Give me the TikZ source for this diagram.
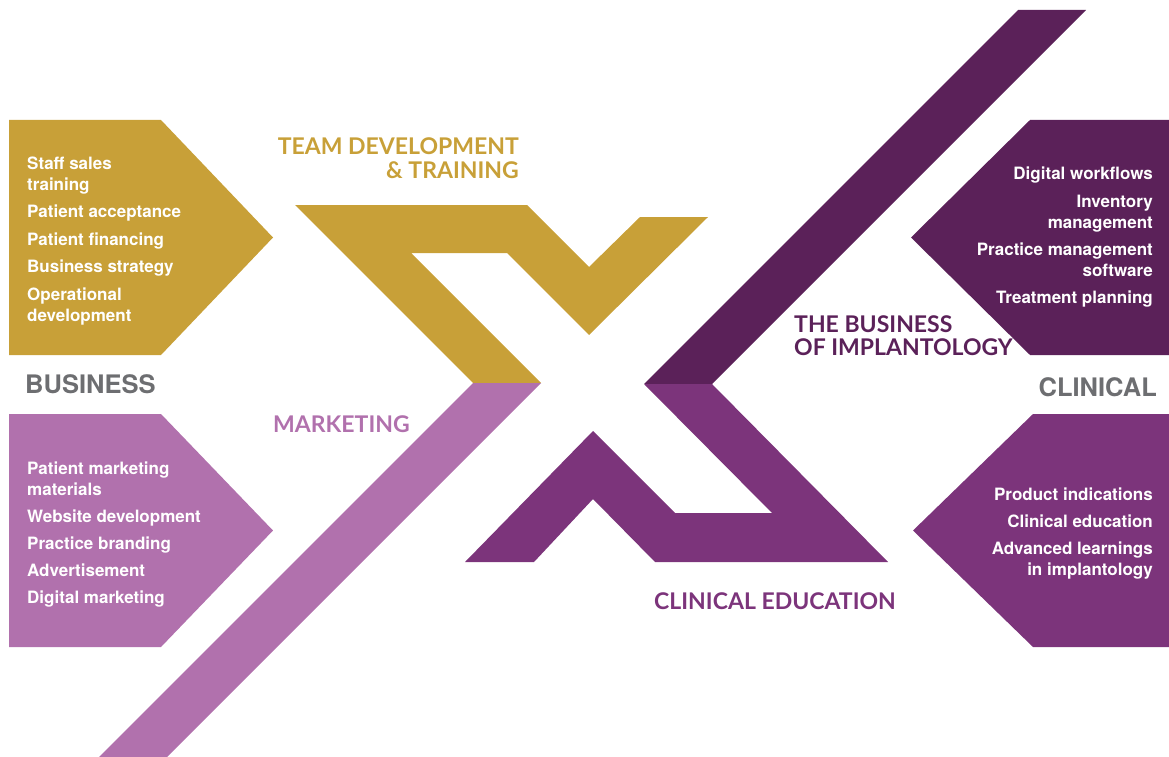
\documentclass[tikz,border=0pt]{standalone}
\usepackage{fontspec}
\setmainfont{TeX Gyre Heros}
\newfontfamily\headfont{Lato}
\definecolor{gold}{HTML}{C8A038}
\definecolor{lilac}{HTML}{B171AD}
\definecolor{plum}{HTML}{5B2159}
\definecolor{violet}{HTML}{7C347B}
\definecolor{slate}{HTML}{6D6E71}

\begin{document}
\begin{tikzpicture}[x=1pt, y=-1pt, every node/.style={inner sep=0pt},
    itemL/.style={anchor=base west, text=white, font=\fontsize{17}{21}\selectfont\bfseries},
    itemR/.style={anchor=base east, text=white, font=\fontsize{17}{21}\selectfont\bfseries},
    head/.style={font=\headfont\fontsize{23}{24}\selectfont\bfseries},
    side/.style={text=slate, font=\fontsize{25.5}{28}\selectfont\bfseries}]
    \useasboundingbox (0,0) rectangle (1169,757);

    \fill[gold] (9,120) -- (161,120) -- (273,237.5) -- (161,355) -- (9,355) -- cycle;
    \fill[lilac] (9,414) -- (161,414) -- (273,530.5) -- (161,647) -- (9,647) -- cycle;
    \fill[plum] (1169,120) -- (1030,120) -- (911,237.5) -- (1030,355) -- (1169,355) -- cycle;
    \fill[violet] (1169,414) -- (1033,414) -- (913,530.5) -- (1033,647) -- (1169,647) -- cycle;

    \fill[gold] (295,205) -- (527,205) -- (589,267) -- (640,217) -- (708,217) -- (589,335)
        -- (507,253) -- (411,253) -- (541,383) -- (473,383) -- cycle;
    \fill[lilac] (473,383) -- (541,383) -- (167,757) -- (99,757) -- cycle;
    \fill[plum] (1018,10) -- (1086,10) -- (712,384) -- (644,384) -- cycle;
    \fill[violet] (644,384) -- (712,384) -- (888,562) -- (655,562) -- (593,499) -- (534,562)
        -- (465,562) -- (593,431) -- (675,513) -- (772,513) -- cycle;

    \foreach \txt/\yy [count=\i] in {Staff sales/169, training/190, Patient acceptance/217,
        Patient financing/245, Business strategy/272, Operational/300, development/321}
        \node[itemL] (biz\i) at (27,\yy) {\txt};
    \foreach \txt/\yy [count=\i] in {Patient marketing/474, materials/495, Website development/522,
        Practice branding/549, Advertisement/576, Digital marketing/603}
        \node[itemL] (mkt\i) at (27,\yy) {\txt};
    \foreach \txt/\yy [count=\i] in {Digital workflows/179, Inventory/207, management/228,
        Practice management/255, software/276, Treatment planning/303}
        \node[itemR] (impl\i) at (1153,\yy) {\txt};
    \foreach \txt/\yy [count=\i] in {Product indications/500, Clinical education/527,
        Advanced learnings/554, in implantology/575}
        \node[itemR] (edu\i) at (1153,\yy) {\txt};

    \node[head, text=gold, anchor=base east] (team1) at (519,154) {TEAM DEVELOPMENT};
    \node[head, text=gold, anchor=base east] (team2) at (519,178) {\& TRAINING};
    \node[head, text=lilac, anchor=base west] (marketing) at (273,432) {MARKETING};
    \node[head, text=plum, anchor=base west] (business1) at (794,332) {THE BUSINESS};
    \node[head, text=plum, anchor=base west] (business2) at (794,355) {OF IMPLANTOLOGY};
    \node[head, text=violet, anchor=base west] (education) at (654,609) {CLINICAL EDUCATION};

    \node[side, anchor=base west] (business) at (25,393) {BUSINESS};
    \node[side, anchor=base east] (clinical) at (1157,396) {CLINICAL};
\end{tikzpicture}
\end{document}
